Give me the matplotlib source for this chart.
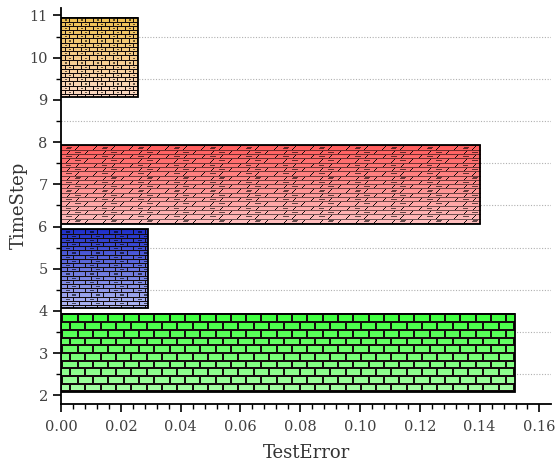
import numpy as np
import matplotlib
matplotlib.use("Agg")
import matplotlib.pyplot as plt
from matplotlib.ticker import MultipleLocator
from matplotlib.colors import to_rgb

# ---- data ----
timesteps = [3, 5, 7, 10]          # bar centres on the TimeStep axis
bar_heights = [1.86, 1.86, 1.86, 1.88]
test_error = [0.1517, 0.0290, 0.1402, 0.0256]
top_colors = ["#3cff3c", "#1e2ec8", "#ff5c5c", "#eec050"]
bottom_colors = ["#a8ffa8", "#b0b8f2", "#ffc0c0", "#fcd9c6"]
# brick pattern (row height px, brick width px, mortar px, slant)
bricks = [(7.7, 15.3, 2, 0), (4.2, 12, 1, 0), (4.3, 18, 1, 1), (4.2, 8, 1, 0)]
yticks = list(range(2, 12))
xticks = [0.00, 0.02, 0.04, 0.06, 0.08, 0.10, 0.12, 0.14, 0.16]

plt.rcParams['font.family'] = ['DejaVu Serif']
fig = plt.figure(figsize=(5.55, 4.62), dpi=100)
ax = fig.add_axes([0.110, 0.126, 0.883, 0.857])
ax.set_xlim(0, 0.1639)
ax.set_ylim(1.80, 11.18)

for s in ['top', 'right']:
    ax.spines[s].set_visible(False)
for s in ['left', 'bottom']:
    ax.spines[s].set_linewidth(1.3)

ax.set_xticks(xticks)
ax.set_xticklabels([f"{v:.2f}" for v in xticks])
ax.set_yticks(yticks)
ax.xaxis.set_minor_locator(MultipleLocator(0.004))
ax.yaxis.set_minor_locator(MultipleLocator(0.5))
ax.tick_params(which='major', direction='out', length=6, width=1.2,
               labelsize=10.5, labelcolor='#404040')
ax.tick_params(axis='x', which='major', pad=6)
ax.tick_params(which='minor', direction='out', length=3.5, width=1.0)
ax.set_xlabel("TestError", fontsize=13, color='#333333', labelpad=7)
ax.set_ylabel("TimeStep", fontsize=13, color='#333333', labelpad=1)

# dotted grid at half steps
ax.yaxis.grid(True, which='minor', linestyle=(0, (1, 1.5)), color='#b0b0b0', lw=0.8)
ax.set_axisbelow(True)

fig.canvas.draw()


def brick_image(wpx, hpx, row_h, brick_w, mortar, slant, c_top, c_bot):
    wpx = max(int(round(wpx)), 2)
    hpx = max(int(round(hpx)), 2)
    ct = np.array(to_rgb(c_top))
    cb = np.array(to_rgb(c_bot))
    t = np.linspace(0, 1, hpx)[:, None, None]
    img = np.ones((hpx, wpx, 3)) * (ct * (1 - t) + cb * t)
    yy, xx = np.mgrid[0:hpx, 0:wpx]
    row = np.floor(yy / row_h).astype(int)
    ry = yy - row * row_h
    offset = (row % 2) * brick_w / 2.0
    if slant:
        xs = xx + ry * 1.0 + offset
    else:
        xs = xx + offset
    bx = np.mod(xs, brick_w)
    mortar_mask = (ry < mortar) | (bx < mortar)
    dark = np.array([0.08, 0.05, 0.05])
    if slant:
        img[ry < mortar] = img[ry < mortar] * 0.45
        img[(bx < mortar) & ~(ry < mortar)] = dark
    else:
        img[mortar_mask] = dark
    if row_h < 6:
        # small dash marks inside bricks
        dash = (np.abs(ry - row_h / 2.0 - 0.3) < 0.6) & (np.abs(bx - brick_w * 0.55) < brick_w * 0.16)
        sel = dash & ((row + np.floor(xs / brick_w).astype(int)) % 2 == 0)
        img[sel] = img[sel] * 0.4
    return img


for c, h, v, ct, cb, bp in zip(timesteps, bar_heights, test_error,
                                top_colors, bottom_colors, bricks):
    y0, y1 = c - h / 2, c + h / 2
    p0 = ax.transData.transform((0, y0))
    p1 = ax.transData.transform((v, y1))
    img = brick_image(p1[0] - p0[0], p1[1] - p0[1], *bp, ct, cb)
    ax.imshow(img, extent=(0, v, y0, y1), origin='upper', aspect='auto',
              interpolation='nearest', zorder=2)
    ax.barh(c, v, height=h, left=0, facecolor='none', edgecolor='black',
            linewidth=1.3, zorder=3)

ax.set_xlim(0, 0.1639)
ax.set_ylim(1.80, 11.18)
fig.savefig("out.png", dpi=100)
